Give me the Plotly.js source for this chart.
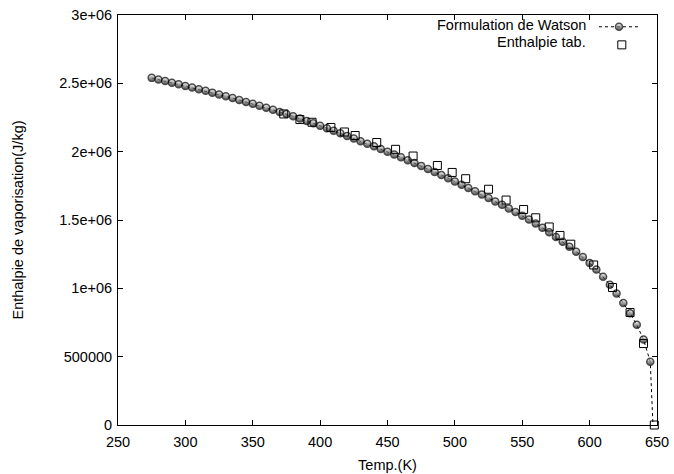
<!DOCTYPE html>
<html>
<head>
<meta charset="utf-8">
<script src="https://cdn.plot.ly/plotly-3.0.1.min.js"></script>
<style>html,body{margin:0;padding:0;background:#fff;}#chart{width:674px;height:474px;}</style>
</head>
<body>
<div id="chart"></div>
<script>
// Watson formulation (K, J/kg)
const watsonT = [275,280,285,290,295,300,305,310,315,320,325,330,335,340,345,350,355,360,365,370,
  375,380,385,390,395,400,405,410,415,420,425,430,435,440,445,450,455,460,465,470,
  475,480,485,490,495,500,505,510,515,520,525,530,535,540,545,550,555,560,565,570,
  575,580,585,590,595,600,605,610,615,620,625,630,635,640,645,647];
const watsonH = [2540000,2528000,2517000,2505000,2493000,2481000,2469000,2457000,2445000,2432000,
  2419000,2406000,2392000,2378000,2364000,2350000,2336000,2321000,2306000,2291000,
  2275000,2259000,2243000,2225000,2208000,2190000,2172000,2153000,2134000,2115000,
  2096000,2077000,2058000,2039000,2020000,2000000,1980000,1959000,1938000,1917000,
  1896000,1874000,1852000,1829000,1806000,1782000,1758000,1734000,1710000,1686000,
  1661000,1636000,1611000,1585000,1559000,1532000,1504000,1474000,1443000,1410000,
  1376000,1341000,1305000,1268000,1229000,1186000,1138000,1085000,1027000,963000,
  893000,818000,733000,625000,463000,0];
// Tabulated enthalpy (K, J/kg)
const tableT = [373,385,394,408,418,426,442,456,469,487,498,508,525,538,551,560,570,578,586,603,617,630,640,648];
const tableH = [2276000,2235000,2215000,2177000,2144000,2118000,2067000,2017000,1968000,1899000,1848000,1802000,
  1725000,1646000,1577000,1516000,1449000,1387000,1323000,1171000,1006000,823000,596000,0];
// Axis ticks
const xTickVals = [250,300,350,400,450,500,550,600,650];
const yTickVals = [0,500000,1000000,1500000,2000000,2500000,3000000];
const yTickText = ['0','500000','1e+06','1.5e+06','2e+06','2.5e+06','3e+06'];
const seriesNames = ['Formulation de Watson','Enthalpie tab.'];

const FONT = 'Liberation Sans, Arial, Helvetica, sans-serif';
const circleMarker = {symbol:'circle', size:7, color:'white', line:{color:'black', width:1.5},
  gradient:{type:'vertical', color:'black'}};
const squareMarker = {symbol:'square-open', size:8, color:'black', line:{color:'black', width:1}};

const sizes = watsonT.map((t,i)=> i === watsonT.length-1 ? 0 : 7);

const traces = [
  {x:watsonT, y:watsonH, type:'scatter', mode:'lines+markers', name:seriesNames[0], cliponaxis:false,
   line:{color:'black', width:1, dash:'3px,3px'}, marker:Object.assign({}, circleMarker, {size:sizes})},
  {x:tableT, y:tableH, type:'scatter', mode:'markers', name:seriesNames[1], cliponaxis:false,
   marker:squareMarker},
  // legend keys on a hidden helper axis
  {x:[0,0.5,1], y:[0.78,0.78,0.78], xaxis:'x2', yaxis:'y2', type:'scatter', mode:'lines+markers',
   hoverinfo:'skip', line:{color:'black', width:1, dash:'3px,3px'},
   marker:Object.assign({}, circleMarker, {size:[0,7,0]})},
  {x:[0.57], y:[0.2], xaxis:'x2', yaxis:'y2', type:'scatter', mode:'markers', hoverinfo:'skip',
   marker:squareMarker}
];

const axisCommon = {showline:true, linecolor:'black', linewidth:1, mirror:'ticks', ticks:'inside',
  ticklen:5, tickwidth:1, tickcolor:'black', showgrid:false, zeroline:false,
  tickfont:{family:FONT, size:14.5, color:'black'}};

const layout = {
  width:674, height:474,
  margin:{l:118, r:17, t:15, b:49},
  paper_bgcolor:'white', plot_bgcolor:'white',
  font:{family:FONT, size:14.5, color:'black'},
  showlegend:false,
  xaxis:Object.assign({}, axisCommon, {range:[250,650], tickvals:xTickVals, ticklabelstandoff:4,
    title:{text:'Temp.(K)', font:{family:FONT, size:14.5}, standoff:10}}),
  yaxis:Object.assign({}, axisCommon, {range:[0,3000000], tickvals:yTickVals, ticktext:yTickText,
    ticklabelstandoff:2,
    title:{text:'Enthalpie de vaporisation(J/kg)', font:{family:FONT, size:14.5}, standoff:32}}),
  xaxis2:{domain:[0.8924,0.9666], range:[0,1], visible:false, anchor:'y2', fixedrange:true},
  yaxis2:{domain:[0.912,0.988], range:[0,1], visible:false, anchor:'x2', fixedrange:true},
  annotations:[
    {xref:'paper', yref:'paper', x:(588-118)/539, y:(425-25)/410, xanchor:'right', yanchor:'middle',
     text:seriesNames[0], showarrow:false, font:{family:FONT, size:14.5, color:'black'}},
    {xref:'paper', yref:'paper', x:(588-118)/539, y:(425-42)/410, xanchor:'right', yanchor:'middle',
     text:seriesNames[1], showarrow:false, font:{family:FONT, size:14.5, color:'black'}}
  ]
};

Plotly.newPlot('chart', traces, layout, {displayModeBar:false, staticPlot:true});
</script>
</body>
</html>
